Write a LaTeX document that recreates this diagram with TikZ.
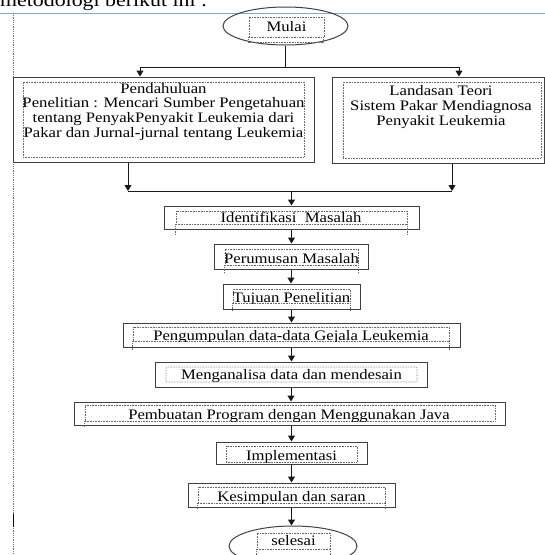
\documentclass[tikz,border=0pt]{standalone}
\usepackage{fontspec}
\setmainfont{Liberation Serif}[FakeStretch=1.15]
\usetikzlibrary{arrows.meta,shapes.geometric}
\newcommand\cliptext[5]{\begin{scope}\clip (0,0) rectangle (545,#4);\node[txt] (#1) at (#2,#3) {#5};\end{scope}}
\begin{document}
\begin{tikzpicture}[x=1pt,y=-1pt,
  outer/.style={draw=black!75, line width=1pt, inner sep=0pt},
  frame/.style={draw=black!60, densely dotted, line width=0.6pt, inner sep=0pt},
  txt/.style={inner sep=0pt, anchor=base, font=\fontsize{14.5}{14.7}\selectfont},
  mtxt/.style={inner sep=0pt, anchor=north, align=center, font=\fontsize{14.5}{14.7}\selectfont},
  conn/.style={draw=black!90, line width=1pt},
  arr/.style={conn, -{Triangle[length=6pt,width=7pt]}},
  tick/.style={draw=black!60, densely dotted, line width=0.6pt}]
\useasboundingbox (0,0) rectangle (545,555);
\begin{scope}
\clip (0,0) rectangle (545,555);
% page decorations
\node[anchor=base west, inner sep=0pt, font=\fontsize{19}{22}\selectfont] (head) at (0,6.5) {metodologi berikut ini :};
\draw[draw={rgb,255:red,140;green,165;blue,205}, line width=1pt] (0,13) -- (545,13);
\draw[draw=black!55, densely dotted, line width=0.8pt] (13,13) -- (13,555);
\draw[draw=black, line width=1.6pt] (13.5,514) -- (13.5,527);

% start
\node[outer, ellipse, minimum width=125pt, minimum height=38pt] (mulai) at (285.5,26) {};
\node[frame, minimum width=75pt, minimum height=20pt] (mulaiF) at (286.5,27) {};
\draw[tick] (mulaiF.south west) -- ++(0,5) -- ++(75,0) -- ++(0,-5);
\node[txt] (mulaiT) at (286.5,31) {Mulai};

% two top boxes
\node[outer, minimum width=301pt, minimum height=85pt] (pend) at (163.5,119.5) {};
\node[frame, minimum width=281pt, minimum height=75pt] (pendF) at (163.5,119.5) {};
\node[mtxt] (pendT) at (163.5,83) {Pendahuluan\\Penelitian : Mencari Sumber Pengetahuan\\tentang PenyakPenyakit Leukemia dari\\Pakar dan Jurnal-jurnal tentang Leukemia};

\node[outer, minimum width=212pt, minimum height=86pt] (land) at (438,120) {};
\node[frame, minimum width=198pt, minimum height=76pt] (landF) at (442,120) {};
\node[mtxt] (landT) at (441,85.5) {Landasan Teori\\Sistem Pakar Mendiagnosa\\Penyakit Leukemia};

% sequence boxes
\node[outer, minimum width=255pt, minimum height=23pt] (ident) at (291.5,217.5) {};
\node[frame, minimum width=231pt, minimum height=13pt] (identF) at (291.5,217.5) {};
\draw[tick] (identF.south west) -- ++(0,11) (identF.south east) -- ++(0,11);
\cliptext{identT}{291}{222.5}{224.5}{Identifikasi~ Masalah}

\node[outer, minimum width=154pt, minimum height=25pt] (perum) at (291,256.5) {};
\node[frame, minimum width=133pt, minimum height=16pt] (perumF) at (291.5,257) {};
\draw[tick] (perumF.south west) -- ++(0,8) (perumF.south east) -- ++(0,8);
\cliptext{perumT}{291.5}{263.5}{265.5}{Perumusan Masalah}

\node[outer, minimum width=137pt, minimum height=25pt] (tujuan) at (291.5,296.5) {};
\node[frame, minimum width=117pt, minimum height=14pt] (tujuanF) at (291.5,296) {};
\draw[tick] (tujuanF.south west) -- ++(0,8) (tujuanF.south east) -- ++(0,8);
\cliptext{tujuanT}{291.5}{302}{303.5}{Tujuan Penelitian}

\node[outer, minimum width=337pt, minimum height=24pt] (kumpul) at (291.5,335) {};
\node[frame, minimum width=316pt, minimum height=14pt] (kumpulF) at (291,334) {};
\draw[tick] (kumpulF.south west) -- ++(0,9) (kumpulF.south east) -- ++(0,9);
\cliptext{kumpulT}{291}{340}{341.5}{Pengumpulan data-data Gejala Leukemia}

\node[outer, minimum width=272pt, minimum height=25pt] (analisa) at (291,374.5) {};
\node[frame, rounded corners=2pt, minimum width=251pt, minimum height=15pt] (analisaF) at (291.5,374.5) {};
\node[txt] (analisaT) at (291.5,379.5) {Menganalisa data dan mendesain};

\node[outer, minimum width=431pt, minimum height=23pt] (buat) at (289.5,413.5) {};
\node[frame, minimum width=410pt, minimum height=16pt] (buatF) at (290,413) {};
\draw[tick] (buatF.south west) -- ++(0,6);
\cliptext{buatT}{289}{419.5}{421.5}{Pembuatan Program dengan Menggunakan Java}

\node[outer, minimum width=151pt, minimum height=22pt] (impl) at (291.5,453) {};
\node[frame, minimum width=131pt, minimum height=16pt] (implF) at (291.5,454) {};
\cliptext{implT}{291.5}{460}{462}{Implementasi}

\node[outer, minimum width=207pt, minimum height=24pt] (kesimp) at (291.5,495) {};
\node[frame, minimum width=187pt, minimum height=16pt] (kesimpF) at (291.5,495) {};
\draw[tick] (kesimpF.south west) -- ++(0,5) (kesimpF.south east) -- ++(0,5);
\cliptext{kesimpT}{291.5}{501.5}{503.5}{Kesimpulan dan saran}

\node[outer, ellipse, minimum width=128pt, minimum height=40pt] (selesai) at (293,546) {};
\node[frame, minimum width=73pt, minimum height=16pt] (selesaiF) at (293.5,541) {};
\draw[tick] (selesaiF.south west) -- ++(0,12) (selesaiF.south east) -- ++(0,12);
\node[txt] (selesaiT) at (293.5,545) {selesai};

% connectors: top split
\coordinate (jl) at (140,67);
\coordinate (jr) at (459,67);
\draw[conn] (mulai.south) -- (mulai.south |- jl);
\draw[conn] (jl) -- (jr);
\draw[arr] (jl) -- (jl |- pend.north);
\draw[arr] (jr) -- (jr |- land.north);

% merge
\coordinate (bl) at (128,191);
\coordinate (br) at (452,191);
\draw[arr] (bl |- pend.south) -- (bl);
\draw[arr] (br |- land.south) -- (br);
\draw[conn] (bl) -- (br);
\draw[arr] (ident.north |- bl) -- (ident.north);

% chain
\draw[arr] (ident.south) -- (ident.south |- perum.north);
\draw[arr] (perum.south) -- (perum.south |- tujuan.north);
\draw[arr] (tujuan.south) -- (tujuan.south |- kumpul.north);
\draw[arr] (kumpul.south) -- (kumpul.south |- analisa.north);
\draw[arr] (analisa.south) -- (analisa.south |- buat.north);
\draw[arr] (impl.north |- buat.south) -- (impl.north);
\draw[arr] (impl.south) -- (impl.south |- kesimp.north);
\draw[arr] (kesimp.south) -- (kesimp.south |- selesai.north);
\end{scope}
\end{tikzpicture}
\end{document}
